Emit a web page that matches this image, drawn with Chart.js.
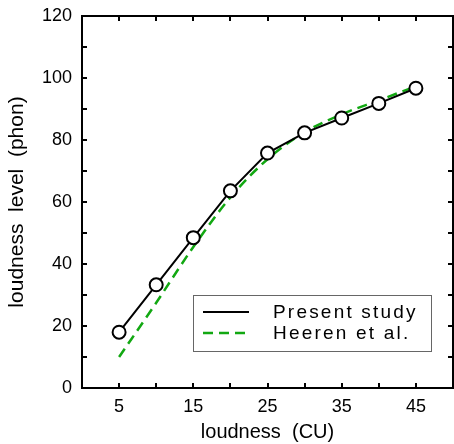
<html>
  <head>
    <title>Loudness level vs loudness</title>
    <script src="https://cdn.jsdelivr.net/npm/chart.js@4.4.1/dist/chart.umd.min.js"></script>
    <style>
      body { margin: 0; background: #fff; }
      .wrap { width: 454px; height: 444px; }
    </style>
  </head>
  <body>
    <div class="wrap">
      <canvas id="myChart" width="454" height="444"></canvas>
    </div>
  <script>
    // values
    const loudnessCU = [5, 10, 15, 20, 25, 30, 35, 40, 45];
    const presentStudy = [18.0, 33.3, 48.5, 63.6, 75.8, 82.3, 87.1, 91.8, 96.7];
    const heeren = [10.0, 27.5, 45.5, 61.5, 73.8, 82.5, 88.3, 92.8, 97.3];
    const xTickLabels = [5, 15, 25, 35, 45];
    const yTickLabels = [0, 20, 40, 60, 80, 100, 120];
    const seriesNames = ["Present study", "Heeren et al."];

    const FONT = "'Liberation Sans', Arial, sans-serif";
    const GREEN = "#12a812";

    const toXY = (ys) => loudnessCU.map((x, i) => ({ x: x, y: ys[i] }));

    // frame + inward ticks on all four sides
    const framePlugin = {
      id: "frame",
      afterDatasetsDraw(chart) {
        const { ctx, chartArea: a, scales } = chart;
        ctx.save();
        ctx.strokeStyle = "#000";
        ctx.lineWidth = 2;
        ctx.strokeRect(a.left, a.top, a.right - a.left, a.bottom - a.top);
        const len = 5;
        ctx.beginPath();
        scales.x.ticks.forEach(t => {
          const px = Math.round(scales.x.getPixelForValue(t.value));
          if (px <= a.left + 1 || px >= a.right - 1) return;
          ctx.moveTo(px, a.bottom); ctx.lineTo(px, a.bottom - len);
          ctx.moveTo(px, a.top); ctx.lineTo(px, a.top + len);
        });
        scales.y.ticks.forEach(t => {
          const py = Math.round(scales.y.getPixelForValue(t.value));
          if (py <= a.top + 1 || py >= a.bottom - 1) return;
          ctx.moveTo(a.left, py); ctx.lineTo(a.left + len, py);
          ctx.moveTo(a.right, py); ctx.lineTo(a.right - len, py);
        });
        ctx.stroke();
        ctx.restore();
      }
    };

    // boxed legend inside the plot
    const boxLegend = {
      id: "boxLegend",
      afterDraw(chart) {
        const { ctx } = chart;
        const x0 = 193, y0 = 295, w = 238, h = 56;
        ctx.save();
        ctx.fillStyle = "#fff";
        ctx.fillRect(x0, y0, w, h);
        ctx.strokeStyle = "#666";
        ctx.lineWidth = 1;
        ctx.strokeRect(x0 + 0.5, y0 + 0.5, w, h);
        const rows = [312, 333];
        chart.data.datasets.forEach((ds, i) => {
          ctx.strokeStyle = ds.borderColor;
          ctx.lineWidth = ds.borderWidth;
          ctx.setLineDash(ds.borderDash || []);
          ctx.beginPath();
          ctx.moveTo(203, rows[i]);
          ctx.lineTo(249, rows[i]);
          ctx.stroke();
          ctx.setLineDash([]);
          ctx.fillStyle = "#000";
          ctx.font = "19px " + FONT;
          ctx.letterSpacing = "2.2px";
          ctx.textBaseline = "middle";
          ctx.fillText(ds.label, 273, rows[i] + 1);
          ctx.letterSpacing = "0px";
        });
        ctx.restore();
      }
    };

    const config = {
      type: "line",
      data: {
        datasets: [
          {
            label: seriesNames[0],
            data: toXY(presentStudy),
            borderColor: "#000",
            borderWidth: 2,
            pointRadius: 6.5,
            pointBorderWidth: 2,
            pointBackgroundColor: "#fff",
            pointBorderColor: "#000",
            order: 0
          },
          {
            label: seriesNames[1],
            data: toXY(heeren),
            borderColor: GREEN,
            borderWidth: 2.5,
            borderDash: [10, 6],
            pointRadius: 0,
            cubicInterpolationMode: "monotone",
            order: 1
          }
        ]
      },
      options: {
        responsive: false,
        animation: false,
        layout: { autoPadding: false, padding: { top: 16, right: 1, left: 0, bottom: 0 } },
        plugins: { legend: { display: false }, tooltip: { enabled: false } },
        scales: {
          x: {
            type: "linear",
            min: 0,
            max: 50,
            grid: { display: false, drawTicks: false },
            border: { display: false },
            afterFit: (s) => { s.height = 56; s.paddingLeft = 0; s.paddingRight = 0; },
            ticks: {
              stepSize: 5,
              padding: 8,
              color: "#000",
              font: { family: FONT, size: 18 },
              maxRotation: 0,
              autoSkip: false,
              callback: (v) => xTickLabels.includes(v) ? String(v) : ""
            },
            title: {
              display: true,
              text: "loudness  (CU)",
              color: "#000",
              font: { family: FONT, size: 20 },
              padding: { top: 0, bottom: 0 }
            }
          },
          y: {
            min: 0,
            max: 120,
            grid: { display: false, drawTicks: false },
            border: { display: false },
            afterFit: (s) => { s.width = 82; s.paddingTop = 0; s.paddingBottom = 0; },
            ticks: {
              stepSize: 10,
              padding: 10,
              color: "#000",
              font: { family: FONT, size: 18 },
              autoSkip: false,
              callback: (v) => yTickLabels.includes(v) ? String(v) : ""
            },
            title: {
              display: true,
              text: "loudness  level  (phon)",
              color: "#000",
              font: { family: FONT, size: 21 },
              padding: { top: 5, bottom: 0 }
            }
          }
        }
      },
      plugins: [framePlugin, boxLegend]
    };

    const ctx = document.getElementById("myChart");
    let myChart = new Chart(ctx, config);
  </script>
  </body>
</html>
